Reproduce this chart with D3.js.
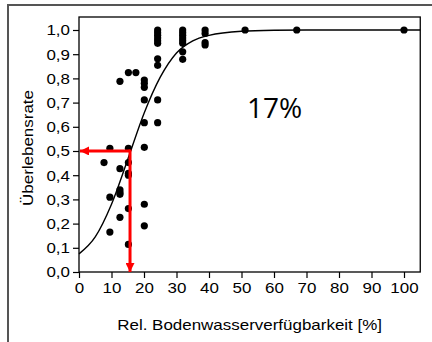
<!DOCTYPE html>
<html><head><meta charset="utf-8">
<script src="https://cdn.jsdelivr.net/npm/d3@7"></script>
<style>body{margin:0;background:#fff}svg{display:block}</style>
</head><body>
<svg id="c" width="432" height="342"></svg>
<script>
// Scatter data: relative soil water availability [%] vs. survival rate
const pointX = [7.7, 9.5, 9.5, 9.5,
  12.6, 12.6, 12.6, 12.6, 12.6, 12.6,
  15.2, 15.2, 15.2, 15.2, 15.2, 15.2, 15.2,
  17.5,
  20.1, 20.1, 20.1, 20.1, 20.1, 20.1, 20.1, 20.1,
  24.2, 24.2, 24.2, 24.2, 24.2, 24.2, 24.2, 24.2, 24.2, 24.2,
  31.9, 31.9, 31.9, 31.9, 31.9, 31.9, 31.9, 31.9,
  38.8, 38.8, 38.8, 38.8,
  51.1, 67, 100];
const pointY = [0.452, 0.511, 0.309, 0.165,
  0.788, 0.427, 0.339, 0.328, 0.321, 0.226,
  0.824, 0.511, 0.452, 0.408, 0.400, 0.262, 0.114,
  0.824,
  0.793, 0.780, 0.763, 0.711, 0.617, 0.515, 0.280, 0.191,
  1.0, 0.989, 0.978, 0.967, 0.956, 0.945, 0.881, 0.854, 0.711, 0.617,
  1.0, 0.989, 0.978, 0.967, 0.956, 0.945, 0.910, 0.879,
  1.0, 0.986, 0.948, 0.938,
  1.0, 1.0, 1.0];
// Fitted curve
const curveX = [0, 5, 10, 15, 20, 25, 30, 35, 40, 50, 60, 70, 80, 90, 100, 105];
const curveY = [0.075, 0.145, 0.28, 0.465, 0.655, 0.805, 0.905, 0.955, 0.978, 0.995, 0.999, 1, 1, 1, 1, 1];
const xTicks = [0, 10, 20, 30, 40, 50, 60, 70, 80, 90, 100];
const yTicks = [0, 0.1, 0.2, 0.3, 0.4, 0.5, 0.6, 0.7, 0.8, 0.9, 1.0];
const threshold = {x: 15.7, y: 0.5};
const annotation = "17%";
const xTitle = "Rel. Bodenwasserverfügbarkeit [%]";
const yTitle = "Überlebensrate";

const svg = d3.select("#c");
const L = 79, R = 420.25, T = 17, B = 272;
const x = d3.scaleLinear().domain([0, 105]).range([L, R]);
const y = d3.scaleLinear().domain([0, 1.0537]).range([B, T]);
const font = "'Liberation Sans', Arial, sans-serif";
const K = 1.13; // horizontal stretch of the original lettering
function stretch(sel) {
  sel.each(function () {
    const w = this.getComputedTextLength();
    d3.select(this).attr("textLength", w * K).attr("lengthAdjust", "spacingAndGlyphs");
  });
}

// outer frame
svg.append("path").attr("d", "M8,343 V5 H433").attr("fill", "none")
  .attr("stroke", "#555").attr("stroke-width", 2);

// plot box
svg.append("rect").attr("x", L).attr("y", T).attr("width", R - L).attr("height", B - T)
  .attr("fill", "none").attr("stroke", "#000").attr("stroke-width", 1.3);

const fmt = d => d3.format(".1f")(d).replace(".", ",");

const xAxis = svg.append("g").attr("transform", `translate(0,${B})`)
  .call(d3.axisBottom(x).tickValues(xTicks).tickSize(6).tickPadding(4));
const yAxis = svg.append("g").attr("transform", `translate(${L},0)`)
  .call(d3.axisLeft(y).tickValues(yTicks).tickFormat(fmt).tickSize(6).tickPadding(3));
[xAxis, yAxis].forEach(g => {
  g.select(".domain").remove();
  g.selectAll("line").attr("stroke", "#000").attr("stroke-width", 1.2);
  g.selectAll("text").attr("font-family", font).attr("font-size", 15).attr("fill", "#000").call(stretch);
});

// curve
const line = d3.line().x((d, i) => x(curveX[i])).y(d => y(d)).curve(d3.curveMonotoneX);
svg.append("path").attr("d", line(curveY)).attr("fill", "none")
  .attr("stroke", "#000").attr("stroke-width", 1.4);

// points
svg.append("g").selectAll("circle").data(pointY).join("circle")
  .attr("cx", (d, i) => x(pointX[i])).attr("cy", d => y(d)).attr("r", 3.6).attr("fill", "#000");

// red arrows
const red = "#f00";
const defs = svg.append("defs");
defs.append("marker").attr("id", "ah").attr("viewBox", "0 0 10 10").attr("refX", 10).attr("refY", 5)
  .attr("markerWidth", 10).attr("markerHeight", 9).attr("markerUnits", "userSpaceOnUse")
  .attr("orient", "auto").append("path").attr("d", "M0,0 L10,5 L0,10 Z").attr("fill", red);
svg.append("line").attr("x1", x(threshold.x)).attr("y1", y(threshold.y))
  .attr("x2", x(0) + 1).attr("y2", y(threshold.y))
  .attr("stroke", red).attr("stroke-width", 3).attr("marker-end", "url(#ah)");
svg.append("line").attr("x1", x(threshold.x)).attr("y1", y(threshold.y) - 1.5)
  .attr("x2", x(threshold.x)).attr("y2", y(0))
  .attr("stroke", red).attr("stroke-width", 3).attr("marker-end", "url(#ah)");

// annotation
svg.append("text").attr("x", 247).attr("y", 118).text(annotation)
  .attr("font-family", "'Open Sans', sans-serif").attr("font-size", 28).attr("fill", "#000");

// titles
svg.append("text").attr("x", (L + R) / 2).attr("y", 330).attr("text-anchor", "middle")
  .attr("font-family", font).attr("font-size", 15).text(xTitle).call(stretch);
svg.append("text").attr("transform", "translate(33,148) rotate(-90)").attr("text-anchor", "middle")
  .attr("font-family", font).attr("font-size", 15).text(yTitle).call(stretch);
</script>
</body></html>
